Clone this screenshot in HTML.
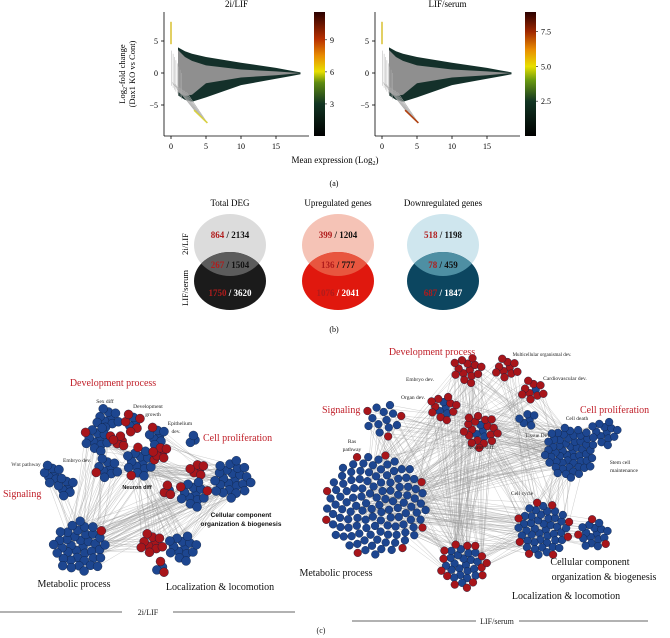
<!DOCTYPE html>
<html><head><meta charset="utf-8">
<style>
html,body{margin:0;padding:0;background:#fff;}
svg{display:block;font-family:"Liberation Serif",serif;}
</style></head>
<body>
<svg id="fig" width="670" height="638" viewBox="0 0 670 638" xmlns="http://www.w3.org/2000/svg">
<defs>
<linearGradient id="cbL" x1="0" y1="1" x2="0" y2="0">
<stop offset="0" stop-color="#000"/><stop offset="0.26" stop-color="#123522"/><stop offset="0.43" stop-color="#5d8a10"/><stop offset="0.52" stop-color="#e8e000"/><stop offset="0.65" stop-color="#e88a00"/><stop offset="0.78" stop-color="#b83000"/><stop offset="1" stop-color="#2a0000"/>
</linearGradient>
<linearGradient id="cbR" x1="0" y1="1" x2="0" y2="0">
<stop offset="0" stop-color="#000"/><stop offset="0.28" stop-color="#123522"/><stop offset="0.45" stop-color="#6a9a10"/><stop offset="0.56" stop-color="#e8e000"/><stop offset="0.7" stop-color="#e88a00"/><stop offset="0.84" stop-color="#a02800"/><stop offset="1" stop-color="#2a0000"/>
</linearGradient>
</defs>
<g id="ma"></g>
<g id="venn"></g>
<g id="edges"></g>
<g id="nodes"></g>
<g id="labels"></g>
</svg>
<script>
const NS="http://www.w3.org/2000/svg";
function mk(p,t,a,txt){const e=document.createElementNS(NS,t);for(const k in a)e.setAttribute(k,a[k]);if(txt!==undefined)e.textContent=txt;p.appendChild(e);return e;}

// ---- MA plot data ----
const xTicks=[0,5,10,15];
const yTicks=[5,0,-5];
const cbTicksL=[3,6,9];
const cbTicksR=[2.5,5.0,7.5];
const envX=[1,2,3,5,10,15,17,18.5];
const upperDark=[4,3.4,3,2.5,1.6,0.8,0.4,0.1];
const lowerDark=[-3.5,-4.2,-4.5,-3.8,-1.9,-0.9,-0.5,-0.2];
const upperGray=[3.6,2.5,1.9,1.2,0.55,0.25,0.1,0];
const lowerGray=[-3,-3.6,-3.4,-1.6,-0.7,-0.35,-0.15,0];
const panels=[{x0:171,ax1:164,ax2:309,title:"2i/LIF",cb:314,cbMax:11.6,cbT:cbTicksL,grad:"cbL",fmt:v=>String(v)},
              {x0:382,ax1:375,ax2:520,title:"LIF/serum",cb:525,cbMax:8.9,cbT:cbTicksR,grad:"cbR",fmt:v=>v.toFixed(1)}];
const ma=document.getElementById('ma');
panels.forEach((p,i)=>{
  const g=mk(ma,'g',{});
  
  
  const X=v=>p.x0+7*v, Y=v=>73-6.4*v;
  const t=mk(g,'text',{x:(p.ax1+p.ax2)/2,y:7,'text-anchor':'middle','font-size':9},p.title);
  
  let d="M"+envX.map((x,k)=>X(x)+","+Y(upperDark[k])).join(" L")+" L"+envX.slice().reverse().map((x,k)=>X(x)+","+Y(lowerDark[envX.length-1-k])).join(" L")+"Z";
  const dk=mk(g,'path',{d:d,fill:'#14302a'});
  d="M"+envX.map((x,k)=>X(x)+","+Y(upperGray[k])).join(" L")+" L"+envX.slice().reverse().map((x,k)=>X(x)+","+Y(lowerGray[envX.length-1-k])).join(" L")+"Z";
  const gr=mk(g,'path',{d:d,fill:'#8f8f8f'});
  for(let k=0;k<8;k++){mk(g,'line',{x1:X(0.1+k*0.2),y1:Y(3.5-k*0.5),x2:X(0.1+k*0.2),y2:Y(-2-k*0.3),stroke:'#b0b0b0','stroke-width':0.5});}
  for(let k=0;k<6;k++){mk(g,'line',{x1:X(0.2+k*0.4),y1:Y(-1.5-k*0.3),x2:X(3.5+k*0.3),y2:Y(-6-k*0.3),stroke:'#aaa','stroke-width':0.6});}
  mk(g,'line',{x1:X(3.3),y1:Y(-5.8),x2:X(5.2),y2:Y(-7.8),stroke:i?'#b04010':'#d8d040','stroke-width':1.6});
  mk(g,'line',{x1:X(0),y1:Y(4.5),x2:X(0),y2:Y(8),stroke:'#d8c030','stroke-width':1.5});
  mk(g,'line',{x1:p.ax1,y1:12,x2:p.ax1,y2:136,stroke:'#000','stroke-width':0.8});
  mk(g,'line',{x1:p.ax1,y1:136,x2:p.ax2,y2:136,stroke:'#000','stroke-width':0.8});
  xTicks.forEach(v=>{mk(g,'line',{x1:X(v),y1:136,x2:X(v),y2:139,stroke:'#000','stroke-width':0.8});
    const e=mk(g,'text',{x:X(v),y:149,'text-anchor':'middle','font-size':8},v);});
  yTicks.forEach(v=>{mk(g,'line',{x1:p.ax1-3,y1:Y(v),x2:p.ax1,y2:Y(v),stroke:'#000','stroke-width':0.8});
    const e=mk(g,'text',{x:p.ax1-6,y:Y(v)+3,'text-anchor':'end','font-size':8},v===-5?"\u22125":v);});
  const cb=mk(g,'rect',{x:p.cb,y:12,width:11,height:124,fill:'url(#'+p.grad+')'});
  p.cbT.forEach(v=>{const y=136-124*v/p.cbMax;mk(g,'line',{x1:p.cb+11,y1:y,x2:p.cb+13,y2:y,stroke:'#000','stroke-width':0.6});
    const e=mk(g,'text',{x:p.cb+16,y:y+3,'font-size':8},p.fmt(v));});
});
let e=mk(ma,'text',{x:125,y:74,'text-anchor':'middle','font-size':8.5,transform:'rotate(-90 125 74)'});
e.innerHTML='Log<tspan font-size="6" dy="2">2</tspan><tspan dy="-2">-fold change</tspan>';

e=mk(ma,'text',{x:135,y:74,'text-anchor':'middle','font-size':8.5,transform:'rotate(-90 135 74)'},'(Dax1 KO vs Cont)');

e=mk(ma,'text',{x:335,y:163,'text-anchor':'middle','font-size':9});
e.innerHTML='Mean expression (Log<tspan font-size="6" dy="2">2</tspan><tspan dy="-2">)</tspan>';

e=mk(ma,'text',{x:334,y:186,'text-anchor':'middle','font-size':8},'(a)');

// ---- Venn ----
const vennTitles=["Total DEG","Upregulated genes","Downregulated genes"];
const vennTop=[[864,2134],[399,1204],[518,1198]];
const vennMid=[[267,1504],[136,777],[78,459]];
const vennBot=[[1750,3620],[1076,2041],[687,1847]];
const vennCols=[["#dcdcdc","#1b1b1b","#5c5c5c"],["#f5c3b6","#e0180e","#e8563f"],["#cfe6ee","#0c4660","#4e8fa3"]];
const vennCx=[230,338,443];
const V=document.getElementById('venn');
vennCx.forEach((cx,i)=>{
  const g=mk(V,'g',{});
  const c=vennCols[i];
  const clip=mk(g,'clipPath',{id:'clip'+i});
  mk(clip,'ellipse',{cx:cx,cy:245,rx:36,ry:31});
  mk(g,'ellipse',{cx:cx,cy:245,rx:36,ry:31,fill:c[0]});
  mk(g,'ellipse',{cx:cx,cy:281,rx:36,ry:29,fill:c[1]});
  mk(g,'ellipse',{cx:cx,cy:281,rx:36,ry:29,fill:c[2],'clip-path':'url(#clip'+i+')'});
  const t=mk(g,'text',{x:cx,y:206,'text-anchor':'middle','font-size':9},vennTitles[i]);
  [[vennTop[i],238,'#111'],[vennMid[i],268,'#111'],[vennBot[i],296,'#fff']].forEach(r=>{
    const tx=mk(g,'text',{x:cx,y:r[1],'text-anchor':'middle','font-size':9,'font-weight':'bold'});
    tx.innerHTML='<tspan fill="#b01c1c">'+r[0][0]+'</tspan><tspan fill="'+r[2]+'"> / '+r[0][1]+'</tspan>';
    });
});
e=mk(V,'text',{x:188,y:244,'text-anchor':'middle','font-size':8.5,transform:'rotate(-90 188 244)'},'2i/LIF');
e=mk(V,'text',{x:188,y:288,'text-anchor':'middle','font-size':8.5,transform:'rotate(-90 188 288)'},'LIF/serum');
e=mk(V,'text',{x:334,y:332,'text-anchor':'middle','font-size':8},'(b)');

// ---- Networks: clusters [cx,cy,nodeCount,redCount,spread] ----
const clustersL=[[108,418,10,0,12],[97,439,14,2,14],[133,423,8,5,10],[157,436,8,1,10],[193,440,3,0,5],[120,441,5,5,7],
 [107,468,10,1,12],[140,463,16,3,16],[160,453,6,6,8],[52,474,8,0,10],[66,487,8,0,10],[197,470,6,6,8],[232,480,24,0,20],
 [193,494,14,2,15],[167,490,4,3,6],[80,547,40,1,27],[152,543,10,10,12],[182,548,14,0,15],[160,567,4,2,7]];
const clustersR=[[467,370,14,14,15],[507,368,10,10,12],[533,390,10,9,12],[443,408,14,10,14],[480,431,22,18,18],[527,420,6,0,9],
 [383,420,14,3,19],[570,452,55,0,26],[604,433,14,0,14],[376,505,120,8,52],[543,530,50,8,28],[594,534,18,3,16],[463,565,35,14,24]];
const edgesL=[[15,12],[15,7],[15,16],[12,17],[7,12],[13,15],[15,9],[6,15],[16,12],[1,7],[7,13],[3,12],[17,7],[15,13],[6,12],[1,15],[16,7]];
const edgesR=[[9,7],[9,10],[9,12],[7,10],[4,9],[0,9],[3,9],[6,9],[10,12],[2,7],[4,7],[1,10],[0,7],[4,12],[3,7],[6,7],[9,11],[9,8],[0,12],[1,9],[2,9],[4,10],[6,12],[3,12],[5,9],[0,4],[2,4]];
const EG=document.getElementById('edges'),NG=document.getElementById('nodes');
function pos(c,k){const a=k*2.39996,r=c[4]*Math.sqrt((k+0.5)/c[2]);return [c[0]+r*Math.cos(a),c[1]+r*Math.sin(a)];}
function net(cl,ed,nr,name){
  const eg=mk(EG,'g',{});
  ed.forEach(p=>{const a=cl[p[0]],b=cl[p[1]];for(let k=0;k<Math.min(a[2],b[2],22);k++){const pa=pos(a,k),pb=pos(b,(k*7)%b[2]);
    mk(eg,'line',{x1:pa[0],y1:pa[1],x2:pb[0],y2:pb[1],stroke:'#9a9a9a','stroke-width':0.5,'stroke-opacity':0.5});}});
  const ng=mk(NG,'g',{});
  cl.forEach(c=>{for(let k=0;k<c[2];k++){const p=pos(c,k);const red=k>=c[2]-c[3];
    const n=mk(ng,'circle',{cx:p[0],cy:p[1],r:nr,fill:red?'#a8151a':'#1d4690',stroke:'#0c1f40','stroke-width':0.4});
    }});
}
net(clustersL,edgesL,4.5,'network-2i-lif');
net(clustersR,edgesR,3.9,'network-lif-serum');

// ---- labels ----
const L=document.getElementById('labels');
const labs=[
 ["Development process",113,386,10,"#c0202a","middle","serif",""],
 ["Sex diff",105,403,5.5,"#222","middle","serif",""],["Development",148,408,5.5,"#222","middle","serif",""],["growth",153,416,5.5,"#222","middle","serif",""],
 ["Epithelium",180,425,5.5,"#222","middle","serif",""],["dev.",176,433,5.5,"#222","middle","serif",""],
 ["Cell proliferation",203,441,10,"#c0202a","start","serif",""],["Wnt pathway",26,466,5.5,"#333","middle","serif",""],
 ["Embryo dev.",77,462,5.5,"#222","middle","serif",""],["Signaling",3,497,10,"#c0202a","start","serif",""],
 ["Neuron diff",137,489,5.5,"#111","middle","sans","bold"],
 ["Cellular component",241,517,6.5,"#111","middle","sans","bold"],["organization & biogenesis",241,526,6.5,"#111","middle","sans","bold"],
 ["Metabolic process",74,587,10,"#111","middle","serif",""],["Localization & locomotion",220,590,10,"#111","middle","serif",""],
 ["2i/LIF",148,615,8,"#222","middle","serif",""],
 ["Development process",432,355,10,"#c0202a","middle","serif",""],["Multicellular organismal dev.",542,356,5,"#222","middle","serif",""],
 ["Embryo dev.",420,381,5.5,"#222","middle","serif",""],["Cardiovascular dev.",565,380,5.5,"#222","middle","serif",""],
 ["Organ dev.",413,399,5.5,"#222","middle","serif",""],["Signaling",322,413,10,"#c0202a","start","serif",""],
 ["Cell proliferation",580,413,10,"#c0202a","start","serif",""],["Cell death",577,420,5.5,"#222","middle","serif",""],
 ["Ras",352,443,5.5,"#222","middle","serif",""],["pathway",352,451,5.5,"#222","middle","serif",""],
 ["Tissue Dev.",538,437,5.5,"#222","middle","serif",""],["Neuron diff.",481,449,5.5,"#222","middle","serif",""],
 ["Stem cell",620,464,5.5,"#222","middle","serif",""],["maintenance",624,472,5.5,"#222","middle","serif",""],
 ["Cell cycle",522,495,5.5,"#222","middle","serif",""],["Metabolic process",336,576,10,"#111","middle","serif",""],
 ["Cellular component",590,565,10,"#111","middle","serif",""],["organization & biogenesis",604,580,10,"#111","middle","serif",""],
 ["Localization & locomotion",566,599,10,"#111","middle","serif",""],["LIF/serum",497,624,8,"#222","middle","serif",""],
 ["(c)",321,633,8,"#222","middle","serif",""]];
labs.forEach(l=>{const t=mk(L,'text',{x:l[1],y:l[2],'font-size':l[3],fill:l[4],'text-anchor':l[5],'font-family':l[6]==='sans'?'"Liberation Sans",sans-serif':'"Liberation Serif",serif','font-weight':l[7]||'normal'},l[0]);
  });
[[0,612,122,612],[173,612,295,612],[352,621,476,621],[519,621,648,621]].forEach(a=>{const ln=mk(L,'line',{x1:a[0],y1:a[1],x2:a[2],y2:a[3],stroke:'#333','stroke-width':0.8});
  });
</script>
</body></html>
